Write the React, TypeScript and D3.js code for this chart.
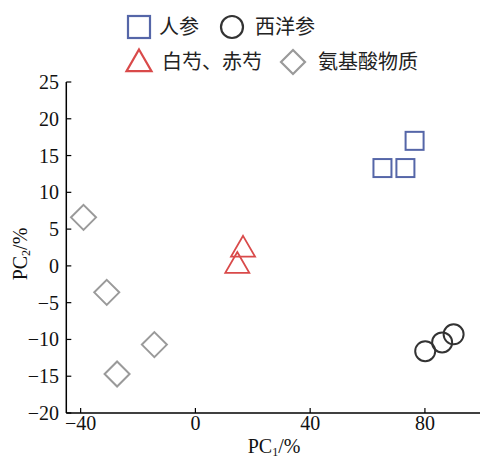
import React from "react";
import * as d3 from "d3";

const xTicks = [-40, 0, 40, 80];
const yTicks = [-20, -15, -10, -5, 0, 5, 10, 15, 20, 25];

const renshen = [
  { x: 65.2, y: 13.3 },
  { x: 73.2, y: 13.3 },
  { x: 76.4, y: 17.0 },
];
const xiyangshen = [
  { x: 80.1, y: -11.6 },
  { x: 86.0, y: -10.4 },
  { x: 90.0, y: -9.3 },
];
const baishao = [
  { x: 16.6, y: 2.2 },
  { x: 14.6, y: 0.0 },
];
const anjisuan = [
  { x: -39.0, y: 6.6 },
  { x: -30.9, y: -3.6 },
  { x: -14.3, y: -10.7 },
  { x: -27.3, y: -14.7 },
];

const legendLabels = ["人参", "西洋参", "白芍、赤芍", "氨基酸物质"];

const BLUE = "#5566a8";
const DARK = "#333333";
const RED = "#d94a4a";
const GRAY = "#9a9a9a";

const FONT = "'Liberation Serif', 'Times New Roman', serif";
const CJK = "'Noto Sans CJK SC', sans-serif";

export default function App() {
  const x = d3.scaleLinear().domain([-45, 100]).range([66.3, 482.3]);
  const y = d3.scaleLinear().domain([-20, 25]).range([413, 82]);

  const sq = 18;
  const dia = (cx: number, cy: number, r: number) =>
    `M${cx},${cy - r}L${cx + r},${cy}L${cx},${cy + r}L${cx - r},${cy}Z`;
  const triPath = (cx: number, cy: number, s: number) => {
    const h = (s * Math.sqrt(3)) / 2;
    return `M${cx},${cy - (2 * h) / 3}L${cx + s / 2},${cy + h / 3}L${cx - s / 2},${cy + h / 3}Z`;
  };

  return (
    <svg
      width={480}
      height={460}
      style={{ position: "absolute", left: 0, top: 0, background: "#fff" }}
    >
      {/* Legend */}
      <g>
        <rect x={128} y={16} width={22} height={22} fill="none" stroke={BLUE} strokeWidth={2.2} />
        <text x={159} y={34} fontFamily={CJK} fontSize={20} fill="#222">{legendLabels[0]}</text>
        <circle cx={232} cy={27} r={11} fill="none" stroke={DARK} strokeWidth={2.2} />
        <text x={255} y={34} fontFamily={CJK} fontSize={20} fill="#222">{legendLabels[1]}</text>
        <path d={triPath(139, 64, 25)} fill="none" stroke={RED} strokeWidth={2.2} />
        <text x={162} y={69} fontFamily={CJK} fontSize={20} fill="#222">{legendLabels[2]}</text>
        <path d={dia(293, 62, 12)} fill="none" stroke={GRAY} strokeWidth={2.2} />
        <text x={318} y={69} fontFamily={CJK} fontSize={20} fill="#222">{legendLabels[3]}</text>
      </g>

      {/* Axes */}
      <line x1={x(-45)} x2={x(-45)} y1={y(25)} y2={y(-20)} stroke="#000" strokeWidth={1.5} />
      <line x1={x(-45)} x2={480} y1={y(-20)} y2={y(-20)} stroke="#000" strokeWidth={1.5} />
      {yTicks.map((t) => (
        <g key={"y" + t}>
          <line x1={x(-45)} x2={x(-45) + 5} y1={y(t)} y2={y(t)} stroke="#000" strokeWidth={1.2} />
          <text
            x={59}
            y={y(t)}
            dy="0.35em"
            textAnchor="end"
            fontFamily={FONT}
            fontSize={20}
            fill="#111"
          >
            {t < 0 ? "\u2212" + Math.abs(t) : t}
          </text>
        </g>
      ))}
      {xTicks.map((t) => (
        <g key={"x" + t}>
          <line x1={x(t)} x2={x(t)} y1={y(-20)} y2={y(-20) - 5} stroke="#000" strokeWidth={1.2} />
          <text x={x(t)} y={430} textAnchor="middle" fontFamily={FONT} fontSize={20} fill="#111">
            {t < 0 ? "\u2212" + Math.abs(t) : t}
          </text>
        </g>
      ))}
      <text x={274} y={453} textAnchor="middle" fontFamily={FONT} fontSize={20} fill="#111">
        PC<tspan fontSize={12} dy={3}>1</tspan>
        <tspan dy={-3}>/%</tspan>
      </text>
      <text
        transform={`translate(27,254) rotate(-90)`}
        textAnchor="middle"
        fontFamily={FONT}
        fontSize={20}
        fill="#111"
      >
        PC<tspan fontSize={12} dy={3}>2</tspan>
        <tspan dy={-3}>/%</tspan>
      </text>

      {/* Points */}
      {renshen.map((d, i) => (
        <rect
          key={"r" + i}
          x={x(d.x) - sq / 2}
          y={y(d.y) - sq / 2}
          width={sq}
          height={sq}
          fill="none"
          stroke={BLUE}
          strokeWidth={2}
        />
      ))}
      {xiyangshen.map((d, i) => (
        <circle key={"c" + i} cx={x(d.x)} cy={y(d.y)} r={10} fill="none" stroke={DARK} strokeWidth={2} />
      ))}
      {baishao.map((d, i) => (
        <path key={"t" + i} d={triPath(x(d.x), y(d.y), 24)} fill="none" stroke={RED} strokeWidth={1.8} />
      ))}
      {anjisuan.map((d, i) => (
        <path key={"d" + i} d={dia(x(d.x), y(d.y), 12.5)} fill="none" stroke={GRAY} strokeWidth={2} />
      ))}
    </svg>
  );
}
